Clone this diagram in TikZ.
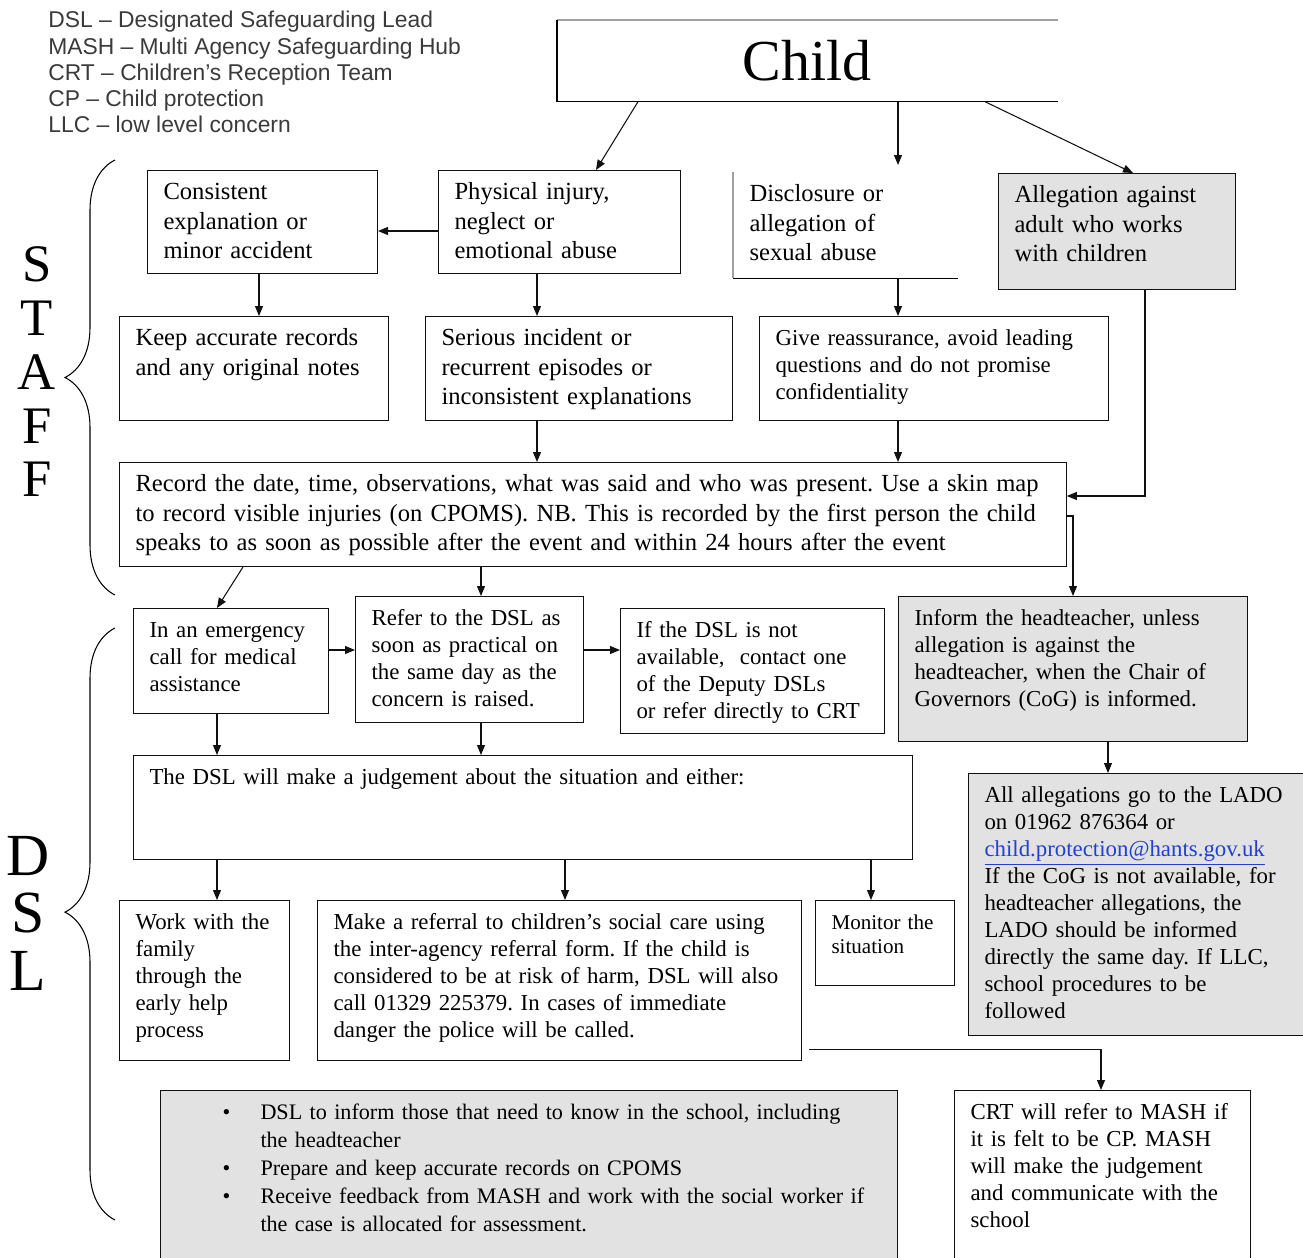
\documentclass[tikz,border=0pt]{standalone}
\usepackage{fontspec}
\setmainfont{Liberation Serif}
\newfontfamily\legendfont{Liberation Sans}
\usepackage{xcolor}
\definecolor{flowDark}{HTML}{111111}
\definecolor{flowGrey}{HTML}{E2E2E2}
\definecolor{flowLine}{HTML}{A0A0A0}
\definecolor{legendText}{HTML}{3A3A3A}
\definecolor{linkBlue}{HTML}{2240D0}
\usepackage{tikz}
\usetikzlibrary{arrows.meta,calc,decorations.pathreplacing}
\tikzset{
    box/.style={
        draw=flowDark,
        fill=white,
        rectangle,
        anchor=north west,
        align=left,
        inner xsep=0.32cm,
        inner ysep=0pt,
        text height=0.58cm,
        line width=0.6pt,
        font=\fontsize{14pt}{16.8pt}\selectfont
    },
    smallbox/.style={
        box,
        font=\fontsize{13pt}{15.4pt}\selectfont
    },
    greybox/.style={
        smallbox,
        fill=flowGrey
    },
    title/.style={
        anchor=north west,
        minimum width=10cm,
        minimum height=1.62cm,
        inner sep=0pt,
        font=\fontsize{33pt}{38pt}\selectfont
    },
    legend/.style={
        anchor=north west,
        align=left,
        inner sep=0pt,
        text=legendText,
        font=\legendfont\fontsize{13pt}{14.9pt}\selectfont
    },
    side/.style={
        align=center,
        inner sep=0pt,
        font=\fontsize{30pt}{30.6pt}\selectfont
    },
    arrow/.style={
        -{Triangle[length=0.2cm,width=0.16cm]},
        line width=0.6pt,
        color=flowDark
    },
    brace/.style={
        decorate,
        decoration={brace,amplitude=1cm,aspect=#1},
        line width=0.6pt
    }
}

\begin{document}
\frenchspacing
\begin{tikzpicture}[x=0.02cm,y=-0.02cm]
    \useasboundingbox (0,0) rectangle (1303,1258);

    % Abbreviations
    \node[legend] (legend) at (48,11) {DSL – Designated Safeguarding Lead\\MASH – Multi Agency Safeguarding Hub\\CRT – Children’s Reception Team\\CP – Child protection\\LLC – low level concern};

    % Child
    \node[title] (child) at (557,20) {Child};
    \draw[line width=0.6pt, flowLine] (child.north west) -- (child.north east);
    \draw[line width=0.6pt] (child.north west) -- (child.south west) -- (child.south east);

    % Staff section
    \node[side] (staff) at (37,372) {S\\T\\A\\F\\F};
    \draw[brace=0.5] (115,595) -- (115,160);

    \node[box, text width=3.96cm, text depth=1.48cm] (cons) at (147,170) {Consistent\\explanation or\\minor accident};
    \node[box, text width=4.20cm, text depth=1.48cm] (phys) at (438,170) {Physical injury,\\neglect or\\emotional abuse};
    \node[box, draw=none, text width=3.84cm, text depth=1.52cm] (disc) at (733,172) {Disclosure or\\allegation of\\sexual abuse};
    \draw[line width=0.6pt, flowLine] (disc.north west) -- (disc.south west);
    \draw[line width=0.6pt] (disc.south west) -- (disc.south east);
    \node[box, fill=flowGrey, text width=4.10cm, text depth=1.74cm] (alleg) at (998,173) {Allegation against\\adult who works\\with children};

    \node[box, text width=4.74cm, text depth=1.50cm] (keep) at (119,316) {Keep accurate records\\and any original notes};
    \node[box, text width=5.50cm, text depth=1.50cm] (seri) at (425,316) {Serious incident or\\recurrent episodes or\\inconsistent explanations};
    \node[smallbox, text width=6.34cm, text depth=1.50cm] (give) at (759,316) {Give reassurance, avoid leading\\questions and do not promise\\confidentiality};

    \node[box, text width=18.30cm, text depth=1.50cm] (rec) at (119,462) {Record the date, time, observations, what was said and who was present. Use a skin map\\to record visible injuries (on CPOMS). NB. This is recorded by the first person the child\\speaks to as soon as possible after the event and within 24 hours after the event};

    % DSL section
    \node[side, font=\fontsize{34pt}{32.7pt}\selectfont] (dsl) at (28,913) {D\\S\\L};
    \draw[brace=0.52] (115,1220) -- (115,628);

    \node[smallbox, text width=3.26cm, text depth=1.52cm] (emer) at (133,608) {In an emergency\\call for medical\\assistance};
    \node[smallbox, text width=3.92cm, text depth=1.94cm] (refer) at (355,596) {Refer to the DSL as\\soon as practical on\\the same day as the\\concern is raised.};
    \node[smallbox, text width=4.64cm, text depth=1.92cm] (ifdsl) at (620,608) {If the DSL is not\\available,\ \ contact one\\of the Deputy DSLs\\or refer directly to CRT};
    \node[greybox, text width=6.34cm, text depth=2.32cm] (inform) at (898,596) {Inform the headteacher, unless\\allegation is against the\\headteacher, when the Chair of\\Governors (CoG) is informed.};

    \node[smallbox, text width=14.94cm, text depth=1.50cm] (judge) at (133,755) {The DSL will make a judgement about the situation and either:};
    \node[greybox, text width=6.20cm, text depth=4.66cm] (lado) at (968,773) {All allegations go to the LADO\\on 01962 876364 or\\{\color{linkBlue}\underline{child.protection@hants.gov.uk}}\\If the CoG is not available, for\\headteacher allegations, the\\LADO should be informed\\directly the same day. If LLC,\\school procedures to be\\followed};

    \node[smallbox, text width=2.76cm, text depth=2.62cm] (work) at (119,900) {Work with the\\family\\through the\\early help\\process};
    \node[smallbox, text width=9.04cm, text depth=2.62cm] (make) at (317,900) {Make a referral to children’s social care using\\the inter-agency referral form. If the child is\\considered to be at risk of harm, DSL will also\\call 01329 225379. In cases of immediate\\danger the police will be called.};
    \node[box, font=\fontsize{12pt}{13.7pt}\selectfont, text width=2.14cm, text depth=1.12cm] (moni) at (815,900) {Monitor the\\situation};

    \node[greybox, font=\fontsize{12.6pt}{16pt}\selectfont, text width=14.10cm, text depth=2.92cm] (bull) at (160,1090) {\hspace*{0.92cm}\makebox[0.76cm][l]{\textbullet}DSL to inform those that need to know in the school, including\\\hspace*{1.68cm}the headteacher\\\hspace*{0.92cm}\makebox[0.76cm][l]{\textbullet}Prepare and keep accurate records on CPOMS\\\hspace*{0.92cm}\makebox[0.76cm][l]{\textbullet}Receive feedback from MASH and work with the social worker if\\\hspace*{1.68cm}the case is allocated for assessment.};
    \node[smallbox, text width=5.28cm, text depth=2.92cm] (crt) at (954,1090) {CRT will refer to MASH if\\it is felt to be CP. MASH\\will make the judgement\\and communicate with the\\school};

    % Arrows
    \draw[arrow] ($(child.south west)+(81,0)$) -- ($(phys.north west)+(158,0)$);
    \draw[arrow] ($(child.south west)+(341,0)$) -- ($(disc.north west)+(165,-7)$);
    \draw[arrow] ($(child.south west)+(428,0)$) -- ($(alleg.north west)+(135,0)$);
    \draw[arrow] ($(phys.north west)+(0,61)$) -- ($(cons.north east)+(0,61)$);
    \draw[arrow] ($(cons.south west)+(112,0)$) -- ($(keep.north west)+(140,0)$);
    \draw[arrow] ($(phys.south west)+(99,0)$) -- ($(seri.north west)+(112,0)$);
    \draw[arrow] ($(disc.south west)+(165,0)$) -- ($(give.north west)+(139,0)$);
    \draw[arrow] ($(seri.south west)+(112,0)$) -- ($(rec.north west)+(418,0)$);
    \draw[arrow] ($(give.south west)+(139,0)$) -- ($(rec.north west)+(779,0)$);
    \draw[arrow] ($(alleg.south west)+(147,0)$) |- ($(rec.north east)+(0,34)$);
    \draw[arrow] ($(rec.north east)+(0,54)$) -- ++(7,0) -| ($(inform.north west)+(175,0)$);
    \draw[arrow] ($(rec.south west)+(124,0)$) -- ($(emer.north west)+(84,0)$);
    \draw[arrow] ($(rec.south west)+(362,0)$) -- ($(refer.north west)+(126,0)$);
    \draw[arrow] ($(emer.north east)+(0,42)$) -- ($(refer.north west)+(0,54)$);
    \draw[arrow] ($(refer.north east)+(0,54)$) -- ($(ifdsl.north west)+(0,42)$);
    \draw[arrow] ($(emer.south west)+(84,0)$) -- ($(judge.north west)+(84,0)$);
    \draw[arrow] ($(refer.south west)+(126,0)$) -- ($(judge.north west)+(348,0)$);
    \draw[arrow] ($(inform.south west)+(210,0)$) -- ($(lado.north west)+(140,0)$);
    \draw[arrow] ($(judge.south west)+(84,0)$) -- ($(work.north west)+(98,0)$);
    \draw[arrow] ($(judge.south west)+(432,0)$) -- ($(make.north west)+(248,0)$);
    \draw[arrow] ($(judge.south west)+(738,0)$) -- ($(moni.north west)+(56,0)$);
    \draw[arrow] ($(make.south east)+(7,-12)$) -| ($(crt.north west)+(147,0)$);
\end{tikzpicture}
\end{document}
